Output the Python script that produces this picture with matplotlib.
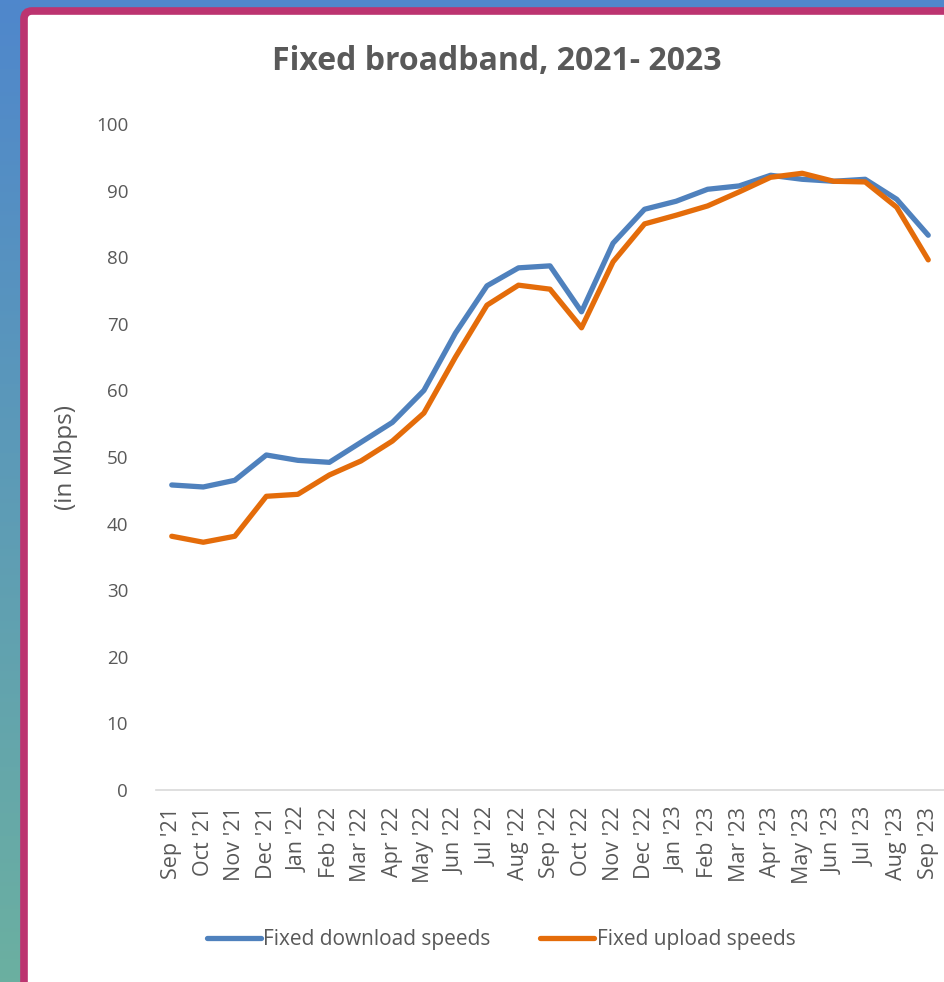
import numpy as np
import matplotlib
matplotlib.use('Agg')
import matplotlib.pyplot as plt
from matplotlib.patches import FancyBboxPatch

# data (Mbps)
months = ["Sep '21", "Oct '21", "Nov '21", "Dec '21", "Jan '22", "Feb '22", "Mar '22",
          "Apr '22", "May '22", "Jun '22", "Jul '22", "Aug '22", "Sep '22", "Oct '22",
          "Nov '22", "Dec '22", "Jan '23", "Feb '23", "Mar '23", "Apr '23", "May '23",
          "Jun '23", "Jul '23", "Aug '23", "Sep '23"]
download = [45.8, 45.5, 46.5, 50.3, 49.5, 49.2, 52.2, 55.2, 60.0, 68.6, 75.7, 78.4, 78.7,
            71.8, 82.1, 87.2, 88.4, 90.2, 90.7, 92.3, 91.7, 91.4, 91.7, 88.7, 83.3]
upload = [38.1, 37.2, 38.1, 44.1, 44.4, 47.3, 49.4, 52.4, 56.6, 65.0, 72.8, 75.8, 75.2,
          69.4, 79.3, 85.0, 86.3, 87.7, 89.8, 92.0, 92.6, 91.4, 91.3, 87.5, 79.6]

plt.rcParams['font.family'] = ['Open Sans', 'DejaVu Sans']
txt_col = '#595959'

W, H = 945, 982
fig = plt.figure(figsize=(W / 100, H / 100), dpi=100)

# gradient background (slide)
bg = fig.add_axes([0, 0, 1, 1])
grad = np.linspace(0, 1, 256)[:, None]
top = np.array([0.31, 0.53, 0.80])
bot = np.array([0.42, 0.69, 0.63])
img = top[None, None, :] * (1 - grad[:, :, None]) + bot[None, None, :] * grad[:, :, None]
bg.imshow(img, aspect='auto', extent=[0, W, H, 0])
bg.set_xlim(0, W)
bg.set_ylim(H, 0)
bg.axis('off')

# white panel with magenta border
panel = FancyBboxPatch((24, 11), W + 40, H + 40, boxstyle='round,pad=0,rounding_size=8',
                       facecolor='white', edgecolor='#bc3470', linewidth=5.5)
bg.add_patch(panel)

ax = fig.add_axes([156 / W, 1 - 790 / H, (944 - 156) / W, (790 - 124) / H])
ax.set_facecolor('none')
x = np.arange(len(months))
ax.plot(x, download, color='#4f81bd', lw=3.8, label='Fixed download speeds', solid_capstyle='round')
ax.plot(x, upload, color='#e46c0a', lw=3.8, label='Fixed upload speeds', solid_capstyle='round')

ax.set_xlim(-0.5, len(months) - 0.5)
ax.set_ylim(0, 100)
ax.set_yticks(range(0, 101, 10))
ax.set_xticks(x)
ax.set_xticklabels(months, rotation=90, fontsize=15.5, color=txt_col)
ax.tick_params(axis='y', labelsize=13.5, colors=txt_col, length=0, pad=20)
ax.tick_params(axis='x', length=0, pad=12)
for s in ['top', 'right', 'left']:
    ax.spines[s].set_visible(False)
ax.spines['bottom'].set_color('#d9d9d9')
ax.spines['bottom'].set_linewidth(1.2)

ax.set_ylabel('(in Mbps)', fontsize=17.5, color=txt_col)
ax.yaxis.set_label_coords(78 / W, 1 - 457 / H, transform=fig.transFigure)
fig.text(497 / W, 1 - 62 / H, 'Fixed broadband, 2021- 2023', ha='center', va='center',
         fontsize=23, fontweight='bold', color=txt_col)

ax.legend(loc='center', bbox_to_anchor=(501 / W, 1 - 940 / H), bbox_transform=fig.transFigure,
          ncol=2, frameon=False, fontsize=15, labelcolor=txt_col, handlelength=2.6,
          handletextpad=0.1, columnspacing=2.4)

fig.savefig('out.png', dpi=100)
